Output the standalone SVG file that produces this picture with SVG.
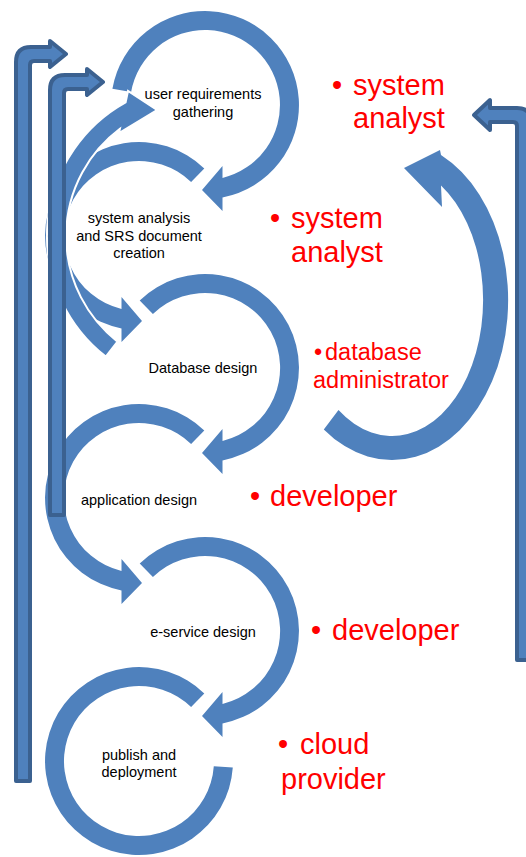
<svg xmlns="http://www.w3.org/2000/svg" width="526" height="857" viewBox="0 0 526 857">
<defs>
<style>
.ring{fill:#4F81BD;}
.lbl{font-family:"Liberation Sans",Arial,sans-serif;font-size:14.5px;fill:#000;text-anchor:middle;}
.role{font-family:"Liberation Sans",Arial,sans-serif;font-size:29px;fill:#FF0000;}
.role-s{font-family:"Liberation Sans",Arial,sans-serif;font-size:23.5px;fill:#FF0000;}
.flow{fill:#4F81BD;stroke:#FFFFFF;stroke-width:2;}
.bar{fill:#4F81BD;stroke:#3B6190;stroke-width:4;stroke-linejoin:round;}
</style>
</defs>
<rect width="526" height="857" fill="#FFFFFF"/>

<g id="node-user-requirements">
<path class="ring" d="M112.4,88.7 A94,94 0 1 1 222.5,197.4 L222.5,211 L202,190 L222.5,166 L222.5,177.9 A75,75 0 1 0 131.1,92 Z"/>
<text class="lbl" x="203" y="99">user requirements</text>
<text class="lbl" x="203" y="117">gathering</text>
</g>

<g id="node-system-analysis">
<path class="ring" d="M204.3,168.4 A94,94 0 1 0 121.5,328.4 L121.5,342 L142,321 L121.5,297 L121.5,308.9 A75,75 0 1 1 191.1,182.1 Z"/>
<text class="lbl" x="139" y="223">system analysis</text>
<text class="lbl" x="139" y="241">and SRS document</text>
<text class="lbl" x="139" y="258">creation</text>
</g>

<g id="node-database-design">
<path class="ring" d="M139.7,300.4 A94,94 0 1 1 222.5,460.4 L222.5,474 L202,453 L222.5,429 L222.5,440.9 A75,75 0 1 0 152.9,314.1 Z"/>
<text class="lbl" x="203" y="373">Database design</text>
</g>

<g id="node-application-design">
<path class="ring" d="M204.3,430.4 A94,94 0 1 0 121.5,590.4 L121.5,604 L142,583 L121.5,559 L121.5,570.9 A75,75 0 1 1 191.1,444.1 Z"/>
<text class="lbl" x="139" y="505">application design</text>
</g>

<g id="node-e-service-design">
<path class="ring" d="M139.7,563.4 A94,94 0 1 1 222.5,723.4 L222.5,737 L202,716 L222.5,692 L222.5,703.9 A75,75 0 1 0 152.9,577.1 Z"/>
<text class="lbl" x="203" y="637">e-service design</text>
</g>

<g id="node-publish-deployment">
<path class="ring" d="M204.3,693.4 A94,94 0 1 0 232.8,767.6 L213.8,766.2 A75,75 0 1 1 191.1,707.1 Z"/>
<text class="lbl" x="139" y="760">publish and</text>
<text class="lbl" x="139" y="777">deployment</text>
</g>

<g id="connectors">
<path class="flow" d="M105.8,356.6 A153,153 0 0 1 125.6,102.3 L128,91 L157,110 L119,133 L119.9,128.8 A134,134 0 0 0 117.5,341.6 Z"/>
<path class="ring" d="M323.8,429.4 A116,160 0 1 0 441,155 L440,150 L404,168 L442,207 L441,185.4 A91,136 0 1 1 338.5,410 Z"/>
<path class="bar" d="M16,781 L16,62 Q16,47 31,47 L50,47 L50,41 L66,54 L50,67 L50,61 L34,61 Q30,61 30,65 L30,781 Z"/>
<path class="bar" d="M50,515 L50,90 Q50,75 65,75 L87,75 L87,69 L103,82 L87,95 L87,89 L68,89 Q64,89 64,93 L64,515 Z"/>
<path class="bar" d="M517,660 L517,126 Q517,122 513,122 L490,122 L490,130 L474,115 L490,100 L490,108 L517,108 Q531,108 531,122 L531,660 Z"/>
</g>

<g id="roles">
<text class="role" x="332" y="95">•</text>
<text class="role" x="353" y="95">system</text>
<text class="role" x="353" y="128">analyst</text>
<text class="role" x="270" y="228">•</text>
<text class="role" x="291" y="228">system</text>
<text class="role" x="291" y="262">analyst</text>
<text class="role-s" x="314" y="360">•</text>
<text class="role-s" x="325" y="360">database</text>
<text class="role-s" x="313" y="388">administrator</text>
<text class="role" x="250" y="506">•</text>
<text class="role" x="270" y="506">developer</text>
<text class="role" x="311" y="640">•</text>
<text class="role" x="332" y="640">developer</text>
<text class="role" x="278" y="754">•</text>
<text class="role" x="300" y="754">cloud</text>
<text class="role" x="281" y="789">provider</text>
</g>
</svg>
